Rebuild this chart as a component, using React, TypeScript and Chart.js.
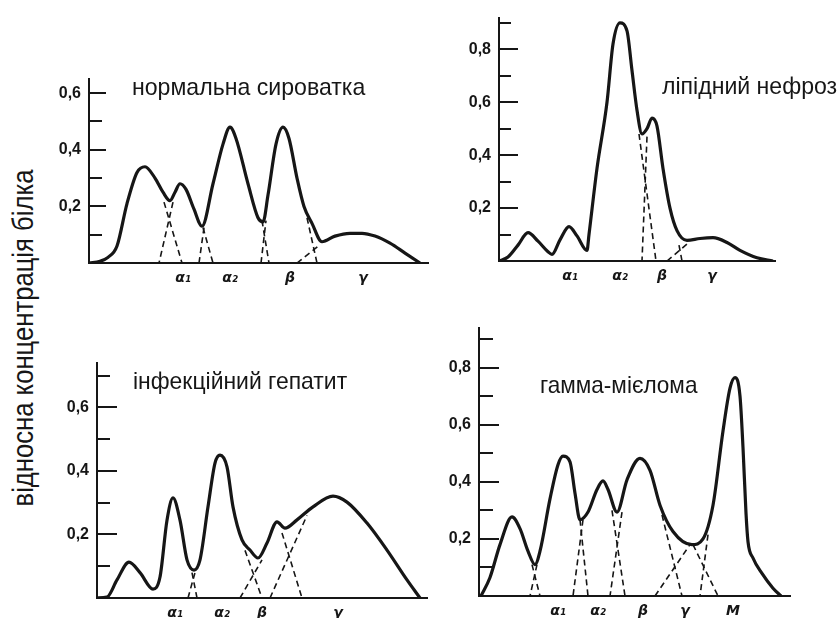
import React, { useEffect, useLayoutEffect, useRef } from "react";
import { Chart, registerables } from "chart.js";

Chart.register(...registerables);

// ---------------- data ----------------
// нормальна сироватка
const normalX = [0, 11, 19, 28, 38, 48, 56, 66, 74, 81, 86, 91, 97, 105, 113, 124, 134, 141, 147, 159, 169, 174, 179, 187, 194, 200, 208, 215, 223, 233, 246, 261, 273, 286, 301, 316, 331];
const normalY = [0, 0.006, 0.02, 0.06, 0.21, 0.32, 0.34, 0.30, 0.25, 0.22, 0.25, 0.28, 0.26, 0.19, 0.13, 0.28, 0.42, 0.48, 0.44, 0.28, 0.16, 0.145, 0.24, 0.42, 0.48, 0.44, 0.30, 0.20, 0.14, 0.075, 0.095, 0.105, 0.105, 0.095, 0.07, 0.035, 0];
const normalDashX = [[75, 93], [84, 70], [110, 115], [114, 124], [172, 177], [173, 180], [218, 228], [208, 231]];
const normalDashY = [[0.215, 0], [0.215, 0], [0, 0.125], [0.125, 0], [0, 0.15], [0.15, 0], [0.16, 0], [0, 0.065]];
const normalTickPos = [94, 141, 201, 274];
const normalTickLabels = ["α₁", "α₂", "β", "γ"];

// ліпідний нефроз
const lipidX = [0, 9, 19, 29, 39, 49, 53, 61, 70, 78, 88, 90, 98, 108, 114, 121, 128, 133, 138, 143, 148, 153, 158, 164, 171, 178, 188, 201, 214, 228, 241, 258, 274];
const lipidY = [0, 0.015, 0.06, 0.107, 0.075, 0.035, 0.025, 0.08, 0.13, 0.095, 0.04, 0.10, 0.35, 0.6, 0.82, 0.9, 0.87, 0.72, 0.57, 0.48, 0.5, 0.54, 0.51, 0.35, 0.2, 0.115, 0.078, 0.085, 0.088, 0.07, 0.04, 0.012, 0];
const lipidDashX = [[140, 157], [148, 143], [168, 189], [180, 183]];
const lipidDashY = [[0.48, 0], [0.47, 0], [0, 0.067], [0.06, 0]];
const lipidTickPos = [71, 121, 163, 213];
const lipidTickLabels = ["α₁", "α₂", "β", "γ"];

// інфекційний гепатит
const hepX = [0, 10, 20, 32, 43, 56, 63, 70, 76, 83, 90, 97, 103, 111, 118, 123, 130, 136, 145, 153, 161, 170, 180, 188, 200, 216, 236, 250, 270, 290, 310, 323];
const hepY = [0, 0.003, 0.057, 0.113, 0.08, 0.028, 0.066, 0.245, 0.315, 0.245, 0.12, 0.088, 0.12, 0.287, 0.425, 0.45, 0.413, 0.287, 0.183, 0.151, 0.126, 0.173, 0.24, 0.22, 0.246, 0.287, 0.321, 0.302, 0.236, 0.151, 0.057, 0];
const hepDashX = [[143, 165], [148, 165], [173, 210], [185, 205], [91, 98], [100, 95]];
const hepDashY = [[0, 0.12], [0.15, 0], [0, 0.26], [0.205, 0], [0, 0.08], [0, 0.08]];
const hepTickPos = [78, 125, 165, 241];
const hepTickLabels = ["α₁", "α₂", "β", "γ"];

// гамма-мієлома
const myeX = [2, 11, 21, 33, 41, 49, 56, 61, 71, 79, 84, 91, 96, 101, 109, 118, 124, 129, 138, 148, 161, 171, 181, 194, 213, 224, 234, 244, 251, 256, 261, 264, 267, 269, 274, 283, 294, 302];
const myeY = [0, 0.065, 0.18, 0.277, 0.236, 0.157, 0.11, 0.157, 0.34, 0.46, 0.49, 0.47, 0.36, 0.267, 0.294, 0.373, 0.403, 0.373, 0.294, 0.407, 0.482, 0.44, 0.318, 0.226, 0.18, 0.2, 0.318, 0.578, 0.728, 0.765, 0.70, 0.52, 0.29, 0.19, 0.133, 0.079, 0.027, 0];
const myeDashX = [[53, 61], [58, 51], [101, 109], [104, 94], [133, 146], [143, 131], [183, 203], [176, 211], [214, 239], [229, 221]];
const myeDashY = [[0.11, 0], [0.11, 0], [0.267, 0], [0.267, 0], [0.3, 0], [0.294, 0], [0.284, 0], [0, 0.18], [0.18, 0], [0.215, 0]];
const myeTickPos = [79, 119, 164, 206, 254];
const myeTickLabels = ["α₁", "α₂", "β", "γ", "M"];

// y ticks
const yTicksA = [0.1, 0.2, 0.3, 0.4, 0.5, 0.6];
const yLabelsA = [0.2, 0.4, 0.6];
const yTicksB = [0.1, 0.2, 0.3, 0.4, 0.5, 0.6, 0.7, 0.8, 0.9];
const yLabelsB = [0.2, 0.4, 0.6, 0.8];
const yTicksC = [0.1, 0.2, 0.3, 0.4, 0.5, 0.6, 0.7];
const yLabelsC = [0.2, 0.4, 0.6];

const yTitle = "відносна концентрація білка";
const titles = ["нормальна сироватка", "ліпідний нефроз", "інфекційний гепатит", "гамма-мієлома"];

// ---------------- styles ----------------
const INK = "#161616";
const FONT = '"Liberation Sans Narrow", "Liberation Sans", Arial, sans-serif';
const TICK_FONT = '"Liberation Sans", Arial, sans-serif';
const GREEK_FONT = '"DejaVu Sans", "Liberation Sans", sans-serif';

type PanelProps = {
  box: [number, number, number, number];
  axisW: number;
  axisH: number;
  padTop: number;
  padRight: number;
  xMax: number;
  yMax: number;
  curveX: number[];
  curveY: number[];
  dashX: number[][];
  dashY: number[][];
  yTicks: number[];
  yLabeled: number[];
  xTicks: number[];
  xLabels: string[];
  majorLen: number;
  minorLen: number;
};

const isIn = (arr: number[], v: number) => arr.some((a) => Math.abs(a - v) < 1e-6);

function Panel(p: PanelProps) {
  const ref = useRef<HTMLCanvasElement>(null);
  useEffect(() => {
    const curve = p.curveX.map((x, i) => ({ x, y: p.curveY[i] }));
    const dashes = p.dashX.map((xs, i) => ({
      data: xs.map((x, j) => ({ x, y: p.dashY[i][j] })),
      borderColor: INK,
      borderWidth: 1.6,
      borderDash: [6, 4],
      pointRadius: 0,
      tension: 0,
      fill: false,
    }));
    const inward = {
      id: "inwardTicks",
      afterDraw(chart: any) {
        const y = chart.scales.y;
        const ctx = chart.ctx;
        const x0 = chart.chartArea.left;
        ctx.save();
        ctx.strokeStyle = INK;
        ctx.lineWidth = 2;
        y.ticks.forEach((t: any) => {
          const py = Math.round(y.getPixelForValue(t.value));
          const len = isIn(p.yLabeled, t.value) ? p.majorLen : p.minorLen;
          ctx.beginPath();
          ctx.moveTo(x0, py);
          ctx.lineTo(x0 + len, py);
          ctx.stroke();
        });
        ctx.restore();
      },
    };
    const chart = new Chart(ref.current as HTMLCanvasElement, {
      type: "line",
      data: {
        datasets: [
          {
            data: curve,
            borderColor: INK,
            borderWidth: 3.2,
            pointRadius: 0,
            cubicInterpolationMode: "monotone",
            fill: false,
          } as any,
          ...(dashes as any[]),
        ],
      },
      options: {
        animation: false,
        responsive: false,
        events: [],
        layout: { padding: { top: p.padTop, right: p.padRight, left: 0, bottom: 0 } },
        plugins: { legend: { display: false }, tooltip: { enabled: false } },
        scales: {
          x: {
            type: "linear",
            min: 0,
            max: p.xMax,
            grid: { display: false, drawTicks: false },
            border: { display: true, color: INK, width: 2 },
            ticks: {
              autoSkip: false,
              maxRotation: 0,
              padding: 7,
              color: INK,
              font: { family: GREEK_FONT, size: 14, style: "italic", weight: "bold" },
              callback: (_v: any, i: number) => p.xLabels[i] ?? "",
            },
            afterBuildTicks: (s: any) => {
              s.ticks = p.xTicks.map((v) => ({ value: v }));
            },
            afterFit: (s: any) => {
              s.height = p.axisH;
            },
          },
          y: {
            type: "linear",
            min: 0,
            max: p.yMax,
            grid: { display: false, drawTicks: false },
            border: { display: true, color: INK, width: 2 },
            ticks: {
              autoSkip: false,
              padding: 8,
              color: INK,
              font: { family: TICK_FONT, size: 16, weight: "bold" },
              callback: (v: any) => (isIn(p.yLabeled, Number(v)) ? Number(v).toFixed(1).replace(".", ",") : ""),
            },
            afterBuildTicks: (s: any) => {
              s.ticks = p.yTicks.map((v) => ({ value: v }));
            },
            afterFit: (s: any) => {
              s.width = p.axisW;
            },
          },
        },
      } as any,
      plugins: [inward],
    });
    return () => chart.destroy();
  }, []);
  const [l, t, w, h] = p.box;
  return <canvas ref={ref} width={w} height={h} style={{ position: "absolute", left: l, top: t, width: w, height: h }} />;
}

function FitText(props: { text: string; x: number; y: number; width: number; size: number; vertical?: boolean }) {
  const ref = useRef<HTMLDivElement>(null);
  useLayoutEffect(() => {
    const el = ref.current as HTMLDivElement;
    const k = props.width / el.offsetWidth;
    el.style.transform = props.vertical
      ? `translate(-50%, -50%) rotate(-90deg) scaleX(${k})`
      : `scaleX(${k})`;
  }, []);
  return (
    <div
      ref={ref}
      style={{
        position: "absolute",
        left: props.x,
        top: props.y,
        whiteSpace: "nowrap",
        fontFamily: FONT,
        fontSize: props.size,
        lineHeight: `${props.size}px`,
        color: INK,
        transformOrigin: props.vertical ? "50% 50%" : "0 0",
      }}
    >
      {props.text}
    </div>
  );
}

export default function App() {
  return (
    <div style={{ position: "absolute", left: 0, top: 0, width: 840, height: 618, background: "#fff", overflow: "hidden" }}>
      <Panel box={[40, 60, 400, 240]} axisW={49} axisH={37} padTop={19} padRight={12} xMax={339} yMax={0.65}
        curveX={normalX} curveY={normalY} dashX={normalDashX} dashY={normalDashY}
        yTicks={yTicksA} yLabeled={yLabelsA} xTicks={normalTickPos} xLabels={normalTickLabels} majorLen={17} minorLen={13} />
      <Panel box={[440, 0, 400, 300]} axisW={59} axisH={39} padTop={13} padRight={65} xMax={276} yMax={0.92}
        curveX={lipidX} curveY={lipidY} dashX={lipidDashX} dashY={lipidDashY}
        yTicks={yTicksB} yLabeled={yLabelsB} xTicks={lipidTickPos} xLabels={lipidTickLabels} majorLen={19} minorLen={12} />
      <Panel box={[40, 320, 400, 298]} axisW={57} axisH={20} padTop={43} padRight={13} xMax={330} yMax={0.74}
        curveX={hepX} curveY={hepY} dashX={hepDashX} dashY={hepDashY}
        yTicks={yTicksC} yLabeled={yLabelsC} xTicks={hepTickPos} xLabels={hepTickLabels} majorLen={20} minorLen={13} />
      <Panel box={[440, 310, 400, 308]} axisW={39} axisH={22} padTop={11} padRight={50} xMax={311} yMax={0.94}
        curveX={myeX} curveY={myeY} dashX={myeDashX} dashY={myeDashY}
        yTicks={yTicksB} yLabeled={yLabelsB} xTicks={myeTickPos} xLabels={myeTickLabels} majorLen={20} minorLen={14} />
      <FitText text={titles[0]} x={132} y={75} width={233} size={24} />
      <FitText text={titles[1]} x={662} y={74} width={175} size={24} />
      <FitText text={titles[2]} x={133} y={369} width={214} size={24} />
      <FitText text={titles[3]} x={540} y={373} width={157} size={24} />
      <FitText text={yTitle} x={23} y={338} width={337} size={29} vertical />
    </div>
  );
}
